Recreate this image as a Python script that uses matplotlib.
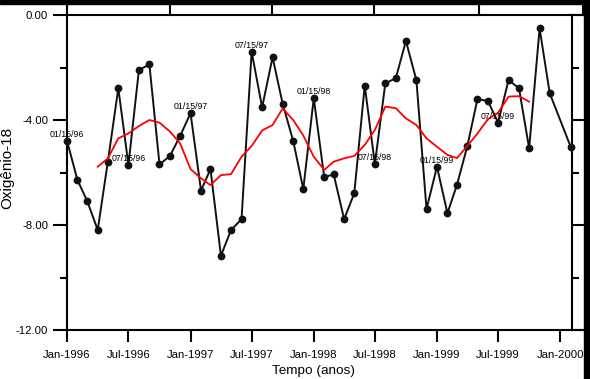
import matplotlib
matplotlib.use("Agg")
import matplotlib.pyplot as plt
import matplotlib.dates as mdates
from matplotlib.lines import Line2D
from matplotlib.patches import Rectangle
from matplotlib.ticker import MultipleLocator, FormatStrFormatter
import pandas as pd

plt.rcParams["font.family"] = ["Liberation Sans", "DejaVu Sans"]
plt.rcParams["axes.unicode_minus"] = False

# monthly oxygen-18 values, Jan 1996 .. Dec 1999, then Feb 2000
months = list(pd.date_range("1996-01-01", "1999-12-01", freq="MS")) + [pd.Timestamp("2000-02-01")]
o18 = [-4.79, -6.29, -7.09, -8.19, -5.59, -2.79, -5.71, -2.10, -1.88, -5.69, -5.37, -4.61,
       -3.74, -6.69, -5.87, -9.17, -8.19, -7.78, -1.40, -3.52, -1.61, -3.39, -4.79, -6.63,
       -3.17, -6.18, -6.07, -7.78, -6.79, -2.69, -5.68, -2.60, -2.41, -0.99, -2.48, -7.39,
       -5.78, -7.55, -6.48, -4.99, -3.20, -3.28, -4.10, -2.48, -2.79, -5.08, -0.51, -2.98,
       -5.02]

# red smoothed curve, Apr 1996 .. Oct 1999
mm_months = pd.date_range("1996-04-01", "1999-10-01", freq="MS")
o18_mm = [-5.78, -5.46, -4.70, -4.51, -4.23, -4.00, -4.10, -4.44, -4.89,
          -5.87, -6.22, -6.48, -6.10, -6.06, -5.40, -4.99, -4.40, -4.19, -3.56, -4.00, -4.59,
          -5.40, -5.90, -5.59, -5.46, -5.37, -4.95, -4.38, -3.49, -3.55, -3.94, -4.19, -4.70,
          -5.02, -5.33, -5.45, -4.99, -4.51, -3.97, -3.72, -3.11, -3.09, -3.30]

label_dates = ["1996-01-01", "1996-07-01", "1997-01-01", "1997-07-01",
               "1998-01-01", "1998-07-01", "1999-01-01", "1999-07-01"]
label_text = ["01/15/96", "07/15/96", "01/15/97", "07/15/97",
              "01/15/98", "07/15/98", "01/15/99", "07/15/99"]

W, H = 590, 379
fig = plt.figure(figsize=(W / 100, H / 100), dpi=100)
ax = fig.add_axes([67 / W, 1 - 330 / H, 505 / W, 315 / H])

ax.plot(months, o18, color="#111111", lw=1.4, marker="o", ms=4.6, clip_on=False, zorder=3)
ax.plot(mm_months, o18_mm, color="red", lw=1.3, zorder=4)

for d, t in zip(label_dates, label_text):
    i = months.index(pd.Timestamp(d))
    ax.annotate(t, (months[i], o18[i]), xytext=(0, 4.7), textcoords="offset points",
                ha="center", va="center", fontsize=6.3, zorder=5)

ax.set_xlim(pd.Timestamp("1996-01-01"), pd.Timestamp("2000-02-05"))
ax.set_ylim(-12, 0)
ax.xaxis.set_major_locator(mdates.MonthLocator(bymonth=[1, 7]))
ax.xaxis.set_major_formatter(mdates.DateFormatter("%b-%Y"))
ax.yaxis.set_major_locator(MultipleLocator(4))
ax.yaxis.set_minor_locator(MultipleLocator(2))
ax.yaxis.set_major_formatter(FormatStrFormatter("%.2f"))

for s in ax.spines.values():
    s.set_linewidth(1.5)
ax.tick_params(axis="x", length=8.6, width=1.5, pad=6, labelsize=8.2)
ax.tick_params(axis="y", which="major", length=10, width=1.5, pad=3.6, labelsize=8.2, right=True)
ax.tick_params(axis="y", which="minor", length=5, width=1.5, right=True)

fig.text(7 / W, 1 - 168 / H, "Oxigênio-18", rotation=90, ha="center", va="center", fontsize=11)
fig.text(313 / W, 1 - 371 / H, "Tempo (anos)", ha="center", va="center", fontsize=9.7)


def fline(x0, y0, x1, y1, lw=1.5):
    fig.add_artist(Line2D([x0 / W, x1 / W], [1 - y0 / H, 1 - y1 / H],
                          color="black", lw=lw, transform=fig.transFigure))


# scanned frame around the plot
fig.add_artist(Rectangle((0, 1 - 3.5 / H), 1, 3.5 / H, color="black", transform=fig.transFigure))
fig.add_artist(Rectangle((584 / W, 0), 6 / W, 1, color="black", transform=fig.transFigure))
fline(572, 15, 584, 15)
fline(572, 330, 584, 330)
for x in [67, 170, 272, 374, 479, 583]:
    fline(x, 3, x, 15)

fig.savefig("out.png", dpi=100)
